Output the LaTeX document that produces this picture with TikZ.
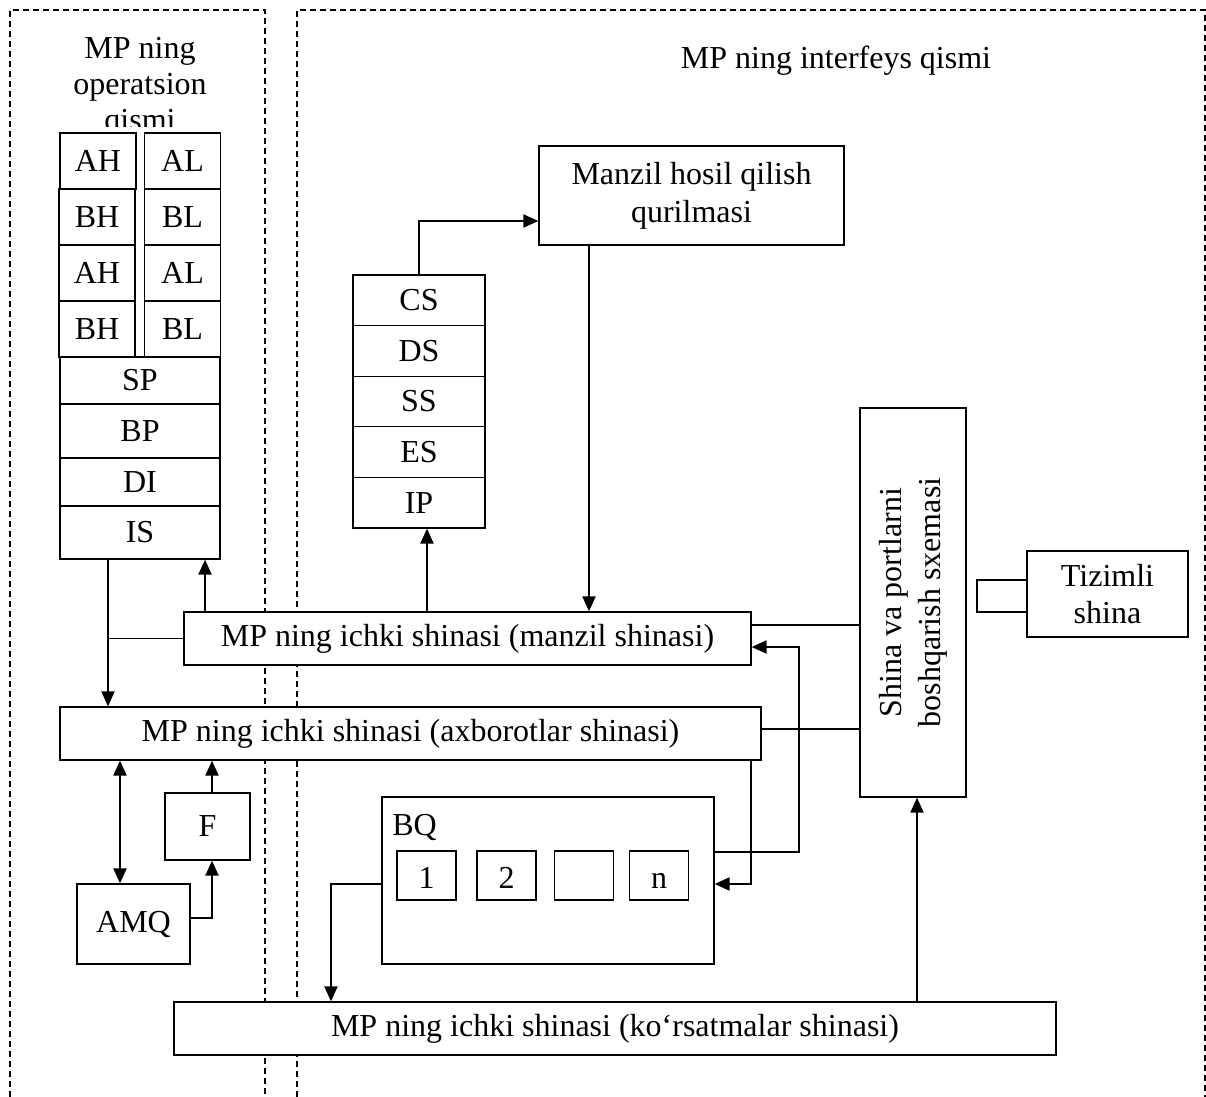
\documentclass[tikz,border=0pt]{standalone}
\usepackage{fontspec}
\setmainfont{Liberation Serif}
\usetikzlibrary{arrows.meta}

\begin{document}
\begin{tikzpicture}[
        x=0.5pt, y=-0.5pt,
        font=\fontsize{16pt}{19pt}\selectfont,
        box/.style={draw, line width=0.6pt, fill=white, inner sep=0pt, align=center},
        reg/.style={box, minimum width=38pt, minimum height=28pt},
        wreg/.style={box, minimum width=80pt},
        seg/.style={box, minimum width=66pt, minimum height=25.3pt},
        bus/.style={box, minimum height=26.5pt},
        cell/.style={box, minimum width=29.5pt, minimum height=24.5pt, text height=13pt, text depth=0pt},
        arr/.style={-{Triangle[length=7.5pt,width=6.5pt]}, line width=1pt},
        darr/.style={{Triangle[length=7.5pt,width=6.5pt]}-{Triangle[length=7.5pt,width=6.5pt]}, line width=1pt},
        wire/.style={line width=0.7pt},
        zone/.style={dash pattern=on 3pt off 2pt, line width=0.7pt}
    ]
    \useasboundingbox (0,0) rectangle (1206,1097);

    % dashed zones
    \draw[zone] (10,1097) -- (10,10) -- (265,10) -- (265,1097);
    \draw[zone] (297,1097) -- (297,10) -- (1205,10) -- (1205,1097);

    % zone titles
    \begin{scope}
        \clip (10,10) rectangle (265,127);
        \node[anchor=north, inner sep=0pt, align=center, font=\fontsize{16pt}{18pt}\selectfont] (optitle) at (140,37) {MP ning\\operatsion\\qismi};
    \end{scope}
    \node (iftitle) at (836,61) {MP ning interfeys qismi};

    % operational registers
    \node[reg] (AH1) at (98,161) {AH};
    \node[reg] (AL1) at (182.5,161) {AL};
    \node[reg] (BH1) at (97,217) {BH};
    \node[reg] (BL1) at (182.5,217) {BL};
    \node[reg] (AH2) at (97,273) {AH};
    \node[reg] (AL2) at (182.5,273) {AL};
    \node[reg] (BH2) at (97,329) {BH};
    \node[reg] (BL2) at (182.5,329) {BL};
    \node[wreg, minimum height=23.5pt] (SP) at (140,380.5) {SP};
    \node[wreg, minimum height=27pt] (BP) at (140,431) {BP};
    \node[wreg, minimum height=24pt] (DI) at (140,482) {DI};
    \node[wreg, minimum height=26.5pt] (IS) at (140,532.5) {IS};

    % segment registers
    \node[seg] (CS) at (419,300.3) {CS};
    \node[seg] (DS) at (419,350.9) {DS};
    \node[seg] (SS) at (419,401.5) {SS};
    \node[seg] (ES) at (419,452.1) {ES};
    \node[seg] (IP) at (419,502.7) {IP};
    \node[box, minimum width=152.5pt, minimum height=49.5pt] (mhq) at (691.5,195.5) {Manzil hosil qilish\\qurilmasi};

    % buses
    \node[bus, minimum width=283.5pt] (mbus) at (467.5,638.5) {MP ning ichki shinasi (manzil shinasi)};
    \node[bus, minimum width=350.5pt] (abus) at (410.5,733.5) {MP ning ichki shinasi (axborotlar shinasi)};
    \node[bus, minimum width=441pt] (kbus) at (615,1028.5) {MP ning ichki shinasi (ko‘rsatmalar shinasi)};

    % bus and port control
    \node[box, minimum width=53pt, minimum height=194.5pt] (spb) at (913,602.5) {\rotatebox{90}{\fontsize{16pt}{19.5pt}\selectfont\begin{tabular}{@{}c@{}}Shina va portlarni\\boshqarish sxemasi\end{tabular}}};
    \node[box, minimum width=25pt, minimum height=16pt] (plug) at (1002,596) {};
    \node[box, minimum width=80.5pt, minimum height=43pt, font=\fontsize{16pt}{18.5pt}\selectfont] (tiz) at (1107.5,594) {Tizimli\\shina};

    % ALU, flags, queue
    \node[box, minimum width=56.5pt, minimum height=40pt] (amq) at (133.5,924) {AMQ};
    \node[box, minimum width=42.5pt, minimum height=33.5pt] (F) at (207.5,826.5) {F};
    \node[box, minimum width=166pt, minimum height=83.5pt] (bq) at (548,880.5) {};
    \node[anchor=base west, inner sep=0pt] (bqlbl) at (392,835) {BQ};
    \node[cell] (c1) at (426.5,875.5) {1};
    \node[cell] (c2) at (506.5,875.5) {2};
    \node[cell] (c3) at (584,875.5) {};
    \node[cell] (cn) at (659,875.5) {n};

    % connections
    \draw[arr] (CS.north) |- ([yshift=-12.75pt]mhq.west);
    \draw[arr] ([xshift=-51.25pt]mhq.south) -- ([xshift=-51.25pt]mhq.south |- mbus.north);
    \draw[arr] ([xshift=32.5pt]IS.south |- mbus.north) -- ([xshift=32.5pt]IS.south);
    \draw[arr] ([xshift=4pt]IP.south |- mbus.north) -- ([xshift=4pt]IP.south);
    \draw[arr] ([xshift=-16pt]IS.south) -- ([xshift=-16pt]IS.south |- abus.north);
    \draw[wire] ([xshift=-16pt]IS.south |- mbus.west) -- (mbus.west);
    \draw[wire] ([yshift=6.75pt]mbus.east) -- ([yshift=6.75pt]mbus.east -| spb.west);
    \draw[wire] ([yshift=2.25pt]abus.east) -- ([yshift=2.25pt]abus.east -| spb.west);
    \draw[arr] ([xshift=170.25pt]abus.south) |- ([yshift=-1.75pt]bq.east);
    \draw[arr] ([yshift=14.25pt]bq.east) -- ++(42pt,0) |- ([yshift=-4.25pt]mbus.east);
    \draw[arr] ([yshift=-1.75pt]bq.west) -| ([xshift=-142pt]kbus.north);
    \draw[arr] ([xshift=2pt]spb.south |- kbus.north) -- ([xshift=2pt]spb.south);
    \draw[darr] ([xshift=-6.75pt]amq.north) -- ([xshift=-6.75pt]amq.north |- abus.south);
    \draw[arr] ([xshift=2.25pt]F.north) -- ([xshift=2.25pt]F.north |- abus.south);
    \draw[arr] ([yshift=3pt]amq.east) -| ([xshift=2.25pt]F.south);

\end{tikzpicture}
\end{document}
